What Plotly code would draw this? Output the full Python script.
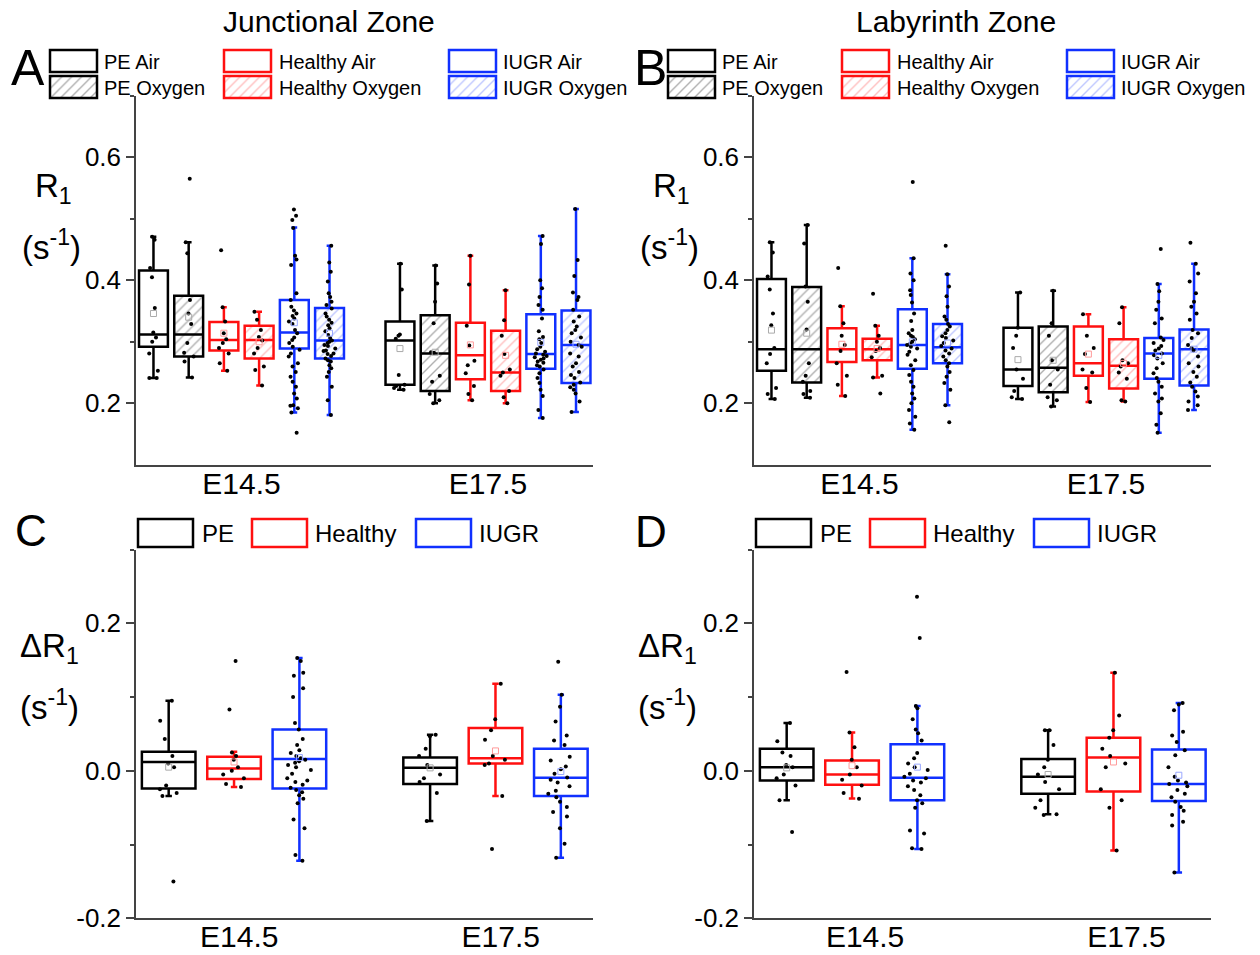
import plotly.graph_objects as go

FONT = "Liberation Sans, Arial, sans-serif"
W, H = 1260, 955
AX = "#444444"

groups = ["E14.5", "E17.5"]
top_series = ["PE Air", "PE Oxygen", "Healthy Air", "Healthy Oxygen", "IUGR Air", "IUGR Oxygen"]
bot_series = ["PE", "Healthy", "IUGR"]

BLACK, RED, BLUE = "#000000", "#ff1010", "#1030ff"
top_colors = [BLACK, BLACK, RED, RED, BLUE, BLUE]
top_hatched = [False, True, False, True, False, True]
hatch_colors = ["#606060", "#606060", "#ff8080", "#ff8080", "#8090ff", "#8090ff"]
top_mean_colors = ["#aaaaaa", "#aaaaaa", "#ff9a9a", "#ff9a9a", "#9aa8ff", "#9aa8ff"]
bot_colors = [BLACK, RED, BLUE]
bot_mean_colors = ["#aaaaaa", "#ff9a9a", "#9aa8ff"]

# ---------------- Panel A: Junctional Zone, R1 (s^-1) ----------------
# each stat: [E14.5 values per series, E17.5 values per series]
A_lower = [[0.241, 0.242, 0.253, 0.229, 0.185, 0.181], [0.222, 0.200, 0.205, 0.200, 0.176, 0.186]]
A_q1 = [[0.292, 0.276, 0.286, 0.273, 0.289, 0.273], [0.230, 0.220, 0.239, 0.220, 0.256, 0.233]]
A_median = [[0.312, 0.312, 0.303, 0.303, 0.315, 0.302], [0.302, 0.281, 0.278, 0.250, 0.280, 0.295]]
A_q3 = [[0.416, 0.375, 0.332, 0.326, 0.368, 0.355], [0.333, 0.343, 0.331, 0.318, 0.345, 0.351]]
A_upper = [[0.471, 0.462, 0.356, 0.349, 0.486, 0.456], [0.427, 0.424, 0.440, 0.384, 0.472, 0.516]]
A_mean = [[0.346, 0.340, 0.314, 0.300, 0.331, 0.314], [0.289, 0.283, 0.295, 0.278, 0.299, 0.296]]
A_pts_E145 = [
    [0.471, 0.466, 0.420, 0.405, 0.355, 0.315, 0.307, 0.300, 0.281, 0.253, 0.241, 0.241],
    [0.565, 0.462, 0.444, 0.368, 0.346, 0.329, 0.298, 0.282, 0.276, 0.268, 0.242],
    [0.449, 0.356, 0.333, 0.314, 0.304, 0.298, 0.290, 0.281, 0.265, 0.253],
    [0.349, 0.336, 0.319, 0.308, 0.302, 0.290, 0.281, 0.260, 0.254, 0.229],
    [0.515, 0.505, 0.498, 0.485, 0.440, 0.434, 0.425, 0.379, 0.368, 0.357, 0.351, 0.346, 0.342,
     0.338, 0.333, 0.329, 0.319, 0.314, 0.307, 0.303, 0.298, 0.292, 0.287, 0.281, 0.276, 0.265,
     0.260, 0.251, 0.243, 0.235, 0.227, 0.216, 0.208, 0.197, 0.196, 0.192, 0.185, 0.152],
    [0.456, 0.429, 0.414, 0.398, 0.379, 0.373, 0.365, 0.360, 0.354, 0.346, 0.341, 0.336, 0.331,
     0.327, 0.322, 0.317, 0.311, 0.306, 0.302, 0.300, 0.298, 0.295, 0.293, 0.289, 0.286, 0.285,
     0.281, 0.280, 0.277, 0.273, 0.270, 0.268, 0.262, 0.257, 0.251, 0.243, 0.227, 0.205, 0.181],
]
A_pts_E175 = [
    [0.427, 0.385, 0.312, 0.310, 0.305, 0.246, 0.230, 0.228, 0.225, 0.222],
    [0.424, 0.395, 0.365, 0.330, 0.283, 0.282, 0.245, 0.235, 0.215, 0.205, 0.200],
    [0.440, 0.393, 0.326, 0.294, 0.269, 0.262, 0.249, 0.228, 0.215, 0.205],
    [0.384, 0.335, 0.310, 0.280, 0.255, 0.250, 0.245, 0.220, 0.210, 0.200],
    [0.472, 0.459, 0.400, 0.387, 0.373, 0.360, 0.352, 0.338, 0.317, 0.308, 0.304, 0.298, 0.292,
     0.288, 0.284, 0.281, 0.279, 0.277, 0.275, 0.273, 0.271, 0.268, 0.266, 0.262, 0.260, 0.255,
     0.249, 0.241, 0.233, 0.222, 0.212, 0.189, 0.176],
    [0.516, 0.433, 0.407, 0.380, 0.373, 0.368, 0.352, 0.341, 0.333, 0.325, 0.319, 0.314, 0.307,
     0.300, 0.295, 0.292, 0.281, 0.276, 0.265, 0.260, 0.251, 0.246, 0.241, 0.234, 0.230, 0.226,
     0.222, 0.216, 0.203, 0.186],
]

# ---------------- Panel B: Labyrinth Zone, R1 (s^-1) ----------------
B_lower = [[0.207, 0.209, 0.212, 0.242, 0.157, 0.197], [0.207, 0.195, 0.202, 0.203, 0.152, 0.189]]
B_q1 = [[0.253, 0.234, 0.267, 0.270, 0.256, 0.265], [0.228, 0.218, 0.245, 0.224, 0.240, 0.229]]
B_median = [[0.288, 0.288, 0.288, 0.288, 0.295, 0.291], [0.255, 0.258, 0.265, 0.261, 0.281, 0.288]]
B_q3 = [[0.402, 0.389, 0.322, 0.305, 0.353, 0.329], [0.323, 0.325, 0.325, 0.304, 0.306, 0.320]]
B_upper = [[0.462, 0.490, 0.358, 0.326, 0.436, 0.410], [0.380, 0.383, 0.345, 0.356, 0.394, 0.427]]
B_mean = [[0.319, 0.314, 0.296, 0.289, 0.300, 0.298], [0.271, 0.270, 0.280, 0.265, 0.278, 0.288]]
B_pts_E145 = [
    [0.462, 0.445, 0.406, 0.385, 0.346, 0.327, 0.290, 0.280, 0.265, 0.225, 0.215, 0.207],
    [0.490, 0.460, 0.390, 0.365, 0.320, 0.265, 0.245, 0.235, 0.220, 0.215, 0.209],
    [0.420, 0.358, 0.330, 0.310, 0.295, 0.285, 0.265, 0.245, 0.230, 0.212],
    [0.378, 0.326, 0.310, 0.300, 0.290, 0.285, 0.275, 0.245, 0.242, 0.216],
    [0.560, 0.436, 0.411, 0.400, 0.384, 0.376, 0.364, 0.346, 0.334, 0.319, 0.314, 0.310, 0.308,
     0.304, 0.300, 0.297, 0.295, 0.292, 0.289, 0.284, 0.279, 0.270, 0.262, 0.254, 0.246, 0.235,
     0.227, 0.216, 0.208, 0.200, 0.189, 0.178, 0.167, 0.157],
    [0.456, 0.410, 0.390, 0.374, 0.357, 0.341, 0.336, 0.329, 0.325, 0.319, 0.314, 0.309, 0.306,
     0.302, 0.298, 0.293, 0.289, 0.286, 0.281, 0.276, 0.270, 0.265, 0.260, 0.251, 0.243, 0.233,
     0.222, 0.197, 0.169],
]
B_pts_E175 = [
    [0.380, 0.323, 0.310, 0.290, 0.255, 0.240, 0.220, 0.210, 0.207],
    [0.383, 0.330, 0.310, 0.270, 0.255, 0.230, 0.210, 0.205, 0.195],
    [0.345, 0.310, 0.290, 0.280, 0.255, 0.250, 0.225, 0.202],
    [0.356, 0.330, 0.270, 0.265, 0.260, 0.250, 0.240, 0.205, 0.203],
    [0.451, 0.394, 0.382, 0.365, 0.352, 0.338, 0.330, 0.307, 0.303, 0.298, 0.293, 0.289, 0.286,
     0.281, 0.278, 0.273, 0.265, 0.257, 0.249, 0.241, 0.235, 0.227, 0.216, 0.208, 0.203, 0.184,
     0.165, 0.152],
    [0.461, 0.427, 0.411, 0.398, 0.379, 0.365, 0.357, 0.346, 0.336, 0.319, 0.314, 0.306, 0.295,
     0.290, 0.286, 0.276, 0.265, 0.260, 0.251, 0.243, 0.234, 0.227, 0.219, 0.211, 0.203, 0.197,
     0.189],
]

# ---------------- Panel C: Junctional Zone, delta R1 ----------------
C_lower = [[-0.034, -0.022, -0.122], [-0.068, -0.034, -0.118]]
C_q1 = [[-0.024, -0.011, -0.024], [-0.018, 0.010, -0.034]]
C_median = [[0.012, 0.003, 0.016], [0.004, 0.017, -0.0095]]
C_q3 = [[0.026, 0.019, 0.056], [0.018, 0.058, 0.030]]
C_upper = [[0.095, 0.026, 0.153], [0.049, 0.118, 0.103]]
C_mean = [[0.005, 0.012, 0.018], [0.004, 0.027, -0.001]]
C_pts_E145 = [
    [0.095, 0.068, 0.043, 0.020, 0.010, 0.005, -0.020, -0.025, -0.030, -0.034, -0.150],
    [0.149, 0.083, 0.025, 0.020, 0.015, 0.005, 0.000, -0.005, -0.010, -0.018, -0.022],
    [0.153, 0.149, 0.133, 0.129, 0.112, 0.100, 0.065, 0.056, 0.043, 0.035, 0.028, 0.024, 0.020,
     0.017, 0.015, 0.013, 0.011, 0.008, 0.005, 0.001, -0.004, -0.010, -0.013, -0.015, -0.019,
     -0.023, -0.026, -0.029, -0.033, -0.038, -0.044, -0.066, -0.078, -0.114, -0.122],
]
C_pts_E175 = [
    [0.049, 0.047, 0.030, 0.020, 0.008, -0.005, -0.010, -0.015, -0.030, -0.068],
    [0.118, 0.070, 0.055, 0.042, 0.020, 0.015, 0.010, 0.008, -0.034, -0.106],
    [0.148, 0.103, 0.087, 0.067, 0.048, 0.041, 0.035, 0.019, 0.014, 0.006, 0.002, -0.004, -0.009,
     -0.012, -0.016, -0.021, -0.027, -0.031, -0.036, -0.042, -0.049, -0.056, -0.062, -0.078,
     -0.099, -0.118],
]

# ---------------- Panel D: Labyrinth Zone, delta R1 ----------------
D_lower = [[-0.040, -0.0375, -0.106], [-0.059, -0.108, -0.138]]
D_q1 = [[-0.013, -0.019, -0.040], [-0.031, -0.028, -0.041]]
D_median = [[0.005, -0.005, -0.0095], [-0.008, 0.018, -0.018]]
D_q3 = [[0.030, 0.014, 0.036], [0.016, 0.045, 0.029]]
D_upper = [[0.065, 0.052, 0.088], [0.055, 0.133, 0.092]]
D_mean = [[0.004, 0.007, 0.005], [-0.005, 0.012, -0.006]]
D_pts_E145 = [
    [0.065, 0.040, 0.025, 0.020, 0.008, 0.005, -0.005, -0.010, -0.020, -0.040, -0.083],
    [0.134, 0.052, 0.032, 0.015, 0.005, -0.005, -0.012, -0.020, -0.030, -0.038],
    [0.236, 0.180, 0.088, 0.085, 0.070, 0.056, 0.051, 0.041, 0.024, 0.017, 0.010, 0.005, 0.001,
     -0.004, -0.008, -0.010, -0.013, -0.016, -0.021, -0.026, -0.033, -0.040, -0.044, -0.050,
     -0.081, -0.085, -0.105, -0.106],
]
D_pts_E175 = [
    [0.055, 0.055, 0.035, 0.015, 0.005, -0.005, -0.015, -0.025, -0.040, -0.050, -0.059, -0.060],
    [0.133, 0.075, 0.055, 0.045, 0.030, 0.020, 0.010, 0.005, -0.025, -0.040, -0.050, -0.108],
    [0.092, 0.090, 0.082, 0.053, 0.048, 0.039, 0.028, 0.021, 0.005, -0.008, -0.013, -0.016,
     -0.018, -0.021, -0.026, -0.031, -0.036, -0.042, -0.049, -0.054, -0.060, -0.069, -0.074,
     -0.138],
]

fig = go.Figure()


def add_panel(xa, ya, slot, colors, hatched, hcols, mcols, lower, q1, med, q3, upper, mean,
              pts, jitter, wwidth):
    n = len(colors)
    w = 0.82 * slot
    ng = len(groups)
    for i in range(n):
        xs = [g + (i - (n - 1) / 2) * slot for g in range(ng)]
        L = [lower[g][i] for g in range(ng)]
        Q1 = [q1[g][i] for g in range(ng)]
        M = [med[g][i] for g in range(ng)]
        Q3 = [q3[g][i] for g in range(ng)]
        U = [upper[g][i] for g in range(ng)]
        MN = [mean[g][i] for g in range(ng)]
        if hatched[i]:
            fig.add_trace(go.Bar(
                x=xs, y=[b - a for a, b in zip(Q1, Q3)], base=Q1, width=[w] * ng,
                marker=dict(color="white", line=dict(width=0),
                            pattern=dict(shape="/", fgcolor=hcols[i], bgcolor="white",
                                         size=7, solidity=0.2)),
                xaxis=xa, yaxis=ya, hoverinfo="skip"))
        fig.add_trace(go.Box(
            x=xs, q1=Q1, median=M, q3=Q3, lowerfence=L, upperfence=U, width=w,
            line=dict(color=colors[i], width=2.5), fillcolor="rgba(0,0,0,0)",
            whiskerwidth=wwidth, boxpoints=False, xaxis=xa, yaxis=ya, hoverinfo="skip"))
        px_, py_ = [], []
        for g in range(ng):
            px_ += [xs[g]] * len(pts[g][i])
            py_ += pts[g][i]
        fig.add_trace(go.Box(
            x=px_, y=py_, boxpoints="all", jitter=jitter, pointpos=0, width=w,
            marker=dict(color="black", size=4), line=dict(width=0, color="rgba(0,0,0,0)"),
            fillcolor="rgba(0,0,0,0)", whiskerwidth=0, xaxis=xa, yaxis=ya, hoverinfo="skip"))
        fig.add_trace(go.Scatter(
            x=xs, y=MN, mode="markers", xaxis=xa, yaxis=ya, hoverinfo="skip",
            marker=dict(symbol="square-open", size=6, color=mcols[i], line=dict(width=1))))


add_panel("x", "y", 1 / 7, top_colors, top_hatched, hatch_colors, top_mean_colors,
          A_lower, A_q1, A_median, A_q3, A_upper, A_mean, [A_pts_E145, A_pts_E175], 0.45, 0.2)
add_panel("x2", "y2", 1 / 7, top_colors, top_hatched, hatch_colors, top_mean_colors,
          B_lower, B_q1, B_median, B_q3, B_upper, B_mean, [B_pts_E145, B_pts_E175], 0.45, 0.2)
add_panel("x3", "y3", 1 / 4, bot_colors, [False] * 3, bot_colors, bot_mean_colors,
          C_lower, C_q1, C_median, C_q3, C_upper, C_mean, [C_pts_E145, C_pts_E175], 0.5, 0.12)
add_panel("x4", "y4", 1 / 4, bot_colors, [False] * 3, bot_colors, bot_mean_colors,
          D_lower, D_q1, D_median, D_q3, D_upper, D_mean, [D_pts_E145, D_pts_E175], 0.5, 0.12)

# ---------------- custom legends (overlay pixel axis) ----------------
leg_top_left = [50, 224, 449]
leg_top_text = [102, 277, 501]
leg_top_rows = [50, 76]
leg_bot_left = [138, 252, 416]
leg_bot_text = [200, 313, 477]
panel_shift = [0, 618]

annotations = []


def ann(x, y, text, size, xanchor="left", yanchor="middle"):
    annotations.append(dict(x=x / W, y=1 - y / H, xref="paper", yref="paper", text=text,
                            showarrow=False, xanchor=xanchor, yanchor=yanchor,
                            font=dict(family=FONT, size=size, color="black")))


for sh in panel_shift:
    for c in range(3):
        for r in range(2):
            i = 2 * c + r
            xc = leg_top_left[c] + sh + 23.5
            if top_hatched[i]:
                mk = dict(color="white", line=dict(color=top_colors[i], width=2.5),
                          pattern=dict(shape="/", fgcolor=hatch_colors[i], bgcolor="white",
                                       size=7, solidity=0.2))
            else:
                mk = dict(color="white", line=dict(color=top_colors[i], width=2.5))
            fig.add_trace(go.Bar(x=[xc], y=[22], base=[leg_top_rows[r]], width=[47], marker=mk,
                                 xaxis="x5", yaxis="y5", hoverinfo="skip"))
            ann(leg_top_text[c] + sh, leg_top_rows[r] + 12, top_series[i], 20)
    for c in range(3):
        xc = leg_bot_left[c] + sh + 27.5
        fig.add_trace(go.Bar(x=[xc], y=[28], base=[519], width=[55],
                             marker=dict(color="white", line=dict(color=bot_colors[c], width=2.5)),
                             xaxis="x5", yaxis="y5", hoverinfo="skip"))
        ann(leg_bot_text[c] + sh, 533, bot_series[c], 24)

# titles, panel letters, axis titles
ann(329, 22, "Junctional Zone", 30, "center")
ann(956, 22, "Labyrinth Zone", 30, "center")
ann(28, 68, "A", 50, "center")
ann(650, 68, "B", 50, "center")
ann(31, 530, "C", 44, "center")
ann(651, 531, "D", 44, "center")
for sh in panel_shift:
    ann(33 + sh, 188, "R<sub>1</sub>", 33)
    ann(20 + sh, 245, "(s<sup>-1</sup>)", 33)
    ann(18 + sh, 648, "ΔR<sub>1</sub>", 33)
    ann(18 + sh, 705, "(s<sup>-1</sup>)", 33)


def xcfg(domain, rng, tv):
    return dict(domain=domain, range=rng, showline=True, linecolor=AX, linewidth=1.5,
                ticks="", ticklen=0, ticklabelstandoff=-9, tickvals=tv, ticktext=groups,
                showgrid=False, zeroline=False,
                tickfont=dict(family=FONT, size=30, color="black"), fixedrange=True,
                automargin=False)


def ycfg(domain, rng, tv, tt, minor):
    return dict(domain=domain, range=rng, showline=True, linecolor=AX, linewidth=1.5,
                ticks="outside", ticklen=8, tickwidth=1.5, tickcolor=AX, tickvals=tv,
                ticktext=tt, showgrid=False, zeroline=False,
                tickfont=dict(family=FONT, size=26, color="black"),
                minor=dict(tickmode="array", tickvals=minor, ticks="outside", ticklen=4,
                           tickwidth=1.5, tickcolor=AX), fixedrange=True, automargin=False)


xa_dom = [136 / W, 593 / W]
xb_dom = [754 / W, 1211 / W]
ytop_dom = [1 - 464.8 / H, 1 - 95.8 / H]
ybot_dom = [1 - 918.3 / H, 1 - 549.6 / H]
rng_top = [-0.428, 1.426]
rng_bot = [-0.375, 1.373]

fig.update_layout(
    width=W, height=H, margin=dict(l=0, r=0, t=0, b=0, pad=0), autosize=False,
    paper_bgcolor="white", plot_bgcolor="rgba(0,0,0,0)",
    showlegend=False, barmode="overlay", boxmode="overlay",
    font=dict(family=FONT, color="black"),
    xaxis=dict(xcfg(xa_dom, rng_top, [0, 1]), anchor="y"),
    yaxis=dict(ycfg(ytop_dom, [0.1, 0.7], [0.2, 0.4, 0.6], ["0.2", "0.4", "0.6"], [0.3, 0.5, 0.7]), anchor="x"),
    xaxis2=dict(xcfg(xb_dom, rng_top, [0, 1]), anchor="y2"),
    yaxis2=dict(ycfg(ytop_dom, [0.1, 0.7], [0.2, 0.4, 0.6], ["0.2", "0.4", "0.6"], [0.3, 0.5, 0.7]), anchor="x2"),
    xaxis3=dict(xcfg(xa_dom, rng_bot, [0.02, 1.02]), anchor="y3"),
    yaxis3=dict(ycfg(ybot_dom, [-0.2, 0.3], [-0.2, 0.0, 0.2], ["-0.2", "0.0", "0.2"], [-0.1, 0.1, 0.3]), anchor="x3"),
    xaxis4=dict(xcfg(xb_dom, rng_bot, [0.05, 1.05]), anchor="y4"),
    yaxis4=dict(ycfg(ybot_dom, [-0.2, 0.3], [-0.2, 0.0, 0.2], ["-0.2", "0.0", "0.2"], [-0.1, 0.1, 0.3]), anchor="x4"),
    xaxis5=dict(domain=[0, 1], range=[0, W], visible=False, anchor="y5", fixedrange=True, automargin=False),
    yaxis5=dict(domain=[0, 1], range=[H, 0], visible=False, anchor="x5", fixedrange=True, automargin=False),
    annotations=annotations,
)

fig.write_html("out.html")
